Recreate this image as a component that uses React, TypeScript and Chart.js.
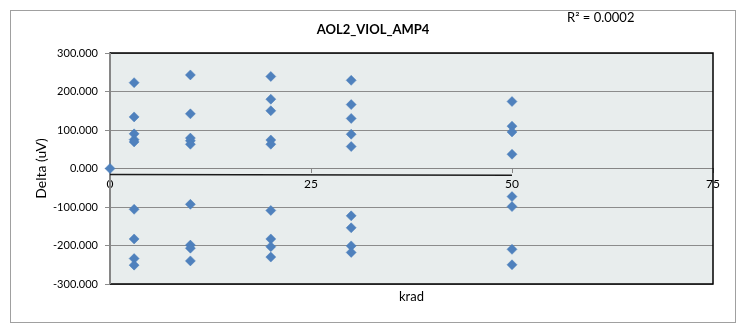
import React, { useEffect, useRef } from "react";
import { Chart, registerables } from "chart.js";

Chart.register(...registerables);

const TITLE = "AOL2_VIOL_AMP4";
const R2_LABEL = "R² = 0.0002";
const X_TITLE = "krad";
const Y_TITLE = "Delta (uV)";

const krad = [
  0,
  3, 3, 3, 3, 3, 3, 3, 3, 3,
  10, 10, 10, 10, 10, 10, 10, 10, 10,
  20, 20, 20, 20, 20, 20, 20, 20, 20,
  30, 30, 30, 30, 30, 30, 30, 30, 30,
  50, 50, 50, 50, 50, 50, 50, 50,
];
const delta = [
  0,
  223, 134, 90, 75, 69, -106, -183, -234, -251,
  243, 142, 79, 72, 63, -93, -199, -207, -240,
  239, 180, 150, 74, 63, -109, -183, -203, -230,
  229, 166, 130, 89, 57, -123, -154, -201, -218,
  174, 110, 95, 37, -73, -99, -210, -250,
];
const trendKrad = [0, 50];
const trendDelta = [-15.6, -17.4];
const xTicks = [0, 25, 50, 75];
const yTicks = [-300, -200, -100, 0, 100, 200, 300];

const FONT = "Lato, 'Open Sans', sans-serif";

export default function App() {
  const ref = useRef<HTMLCanvasElement | null>(null);

  useEffect(() => {
    if (!ref.current) return;
    const framePlugin = {
      id: "framePlugin",
      beforeDraw(chart: any) {
        const { ctx, chartArea: a } = chart;
        ctx.save();
        ctx.fillStyle = "#E8EDED";
        ctx.fillRect(a.left, a.top, a.right - a.left, a.bottom - a.top);
        ctx.restore();
      },
      beforeDatasetsDraw(chart: any) {
        const { ctx, chartArea: a } = chart;
        ctx.save();
        ctx.strokeStyle = "#000000";
        ctx.lineWidth = 1.5;
        ctx.beginPath();
        ctx.moveTo(a.left, a.top);
        ctx.lineTo(a.right, a.top);
        ctx.lineTo(a.right, a.bottom);
        ctx.lineTo(a.left, a.bottom);
        ctx.stroke();
        ctx.strokeStyle = "#868686";
        ctx.lineWidth = 2;
        ctx.beginPath();
        ctx.moveTo(a.left, a.top);
        ctx.lineTo(a.left, a.bottom);
        ctx.stroke();
        ctx.restore();
      },
      afterDraw(chart: any) {
        const { ctx, chartArea: a, width } = chart;
        ctx.save();
        ctx.fillStyle = "#000000";
        ctx.textBaseline = "middle";
        ctx.textAlign = "center";
        ctx.font = `bold 13px ${FONT}`;
        ctx.fillText(TITLE, width / 2, 19);
        ctx.font = `13px ${FONT}`;
        ctx.textAlign = "left";
        ctx.fillText(R2_LABEL, 556, 7);
        ctx.textAlign = "center";
        ctx.fillText(X_TITLE, (a.left + a.right) / 2, 286);
        ctx.restore();
      },
    };

    const chart = new Chart(ref.current, {
      type: "scatter",
      data: {
        datasets: [
          {
            label: "Delta",
            data: krad.map((x, i) => ({ x, y: delta[i] })),
            pointStyle: "rectRot",
            pointRadius: 5,
            pointBackgroundColor: "#4F81BD",
            pointBorderColor: "#4A7EBB",
            pointBorderWidth: 0.5,
            showLine: false,
            clip: false,
          } as any,
          {
            type: "line",
            label: "Trend",
            data: trendKrad.map((x, i) => ({ x, y: trendDelta[i] })),
            borderColor: "#1A1A1A",
            borderWidth: 1.5,
            pointRadius: 0,
            fill: false,
          } as any,
        ],
      },
      options: {
        animation: false,
        responsive: false,
        layout: { padding: { top: 42, right: 22, bottom: 38, left: 0 } },
        plugins: {
          legend: { display: false },
          tooltip: { enabled: false },
          title: { display: false },
        },
        scales: {
          x: {
            type: "linear",
            position: { y: 0 } as any,
            min: 0,
            max: 75,
            afterBuildTicks: (scale: any) => {
              scale.ticks = xTicks.map((v) => ({ value: v }));
            },
            grid: {
              display: true,
              drawOnChartArea: false,
              drawTicks: true,
              tickLength: 4,
              color: "#868686",
            },
            border: { display: true, color: "#868686", width: 1 },
            ticks: {
              color: "#000000",
              font: { family: FONT, size: 12 },
              padding: 4,
              maxRotation: 0,
              autoSkip: false,
            },
          },
          y: {
            type: "linear",
            position: "left",
            min: -300,
            max: 300,
            afterBuildTicks: (scale: any) => {
              scale.ticks = yTicks.map((v) => ({ value: v }));
            },
            afterFit: (scale: any) => {
              scale.width = 99;
            },
            grid: {
              color: "#8C8C8C",
              lineWidth: 1,
              drawTicks: true,
              tickLength: 5,
            },
            border: { display: true, color: "#868686", width: 2 },
            ticks: {
              color: "#000000",
              font: { family: FONT, size: 11 },
              padding: 7,
              callback: (v: any) => Number(v).toFixed(3),
            },
            title: {
              display: true,
              text: Y_TITLE,
              color: "#000000",
              font: { family: FONT, size: 14 },
              padding: { top: 22, bottom: 0 },
            },
          },
        },
      },
      plugins: [framePlugin],
    } as any);
    return () => chart.destroy();
  }, []);

  return (
    <div
      style={{
        position: "absolute",
        left: 10,
        top: 10,
        width: 726,
        height: 313,
        border: "1px solid #A0A0A0",
        boxSizing: "border-box",
        background: "#FFFFFF",
      }}
    >
      <canvas ref={ref} width={724} height={311} style={{ display: "block" }} />
    </div>
  );
}
